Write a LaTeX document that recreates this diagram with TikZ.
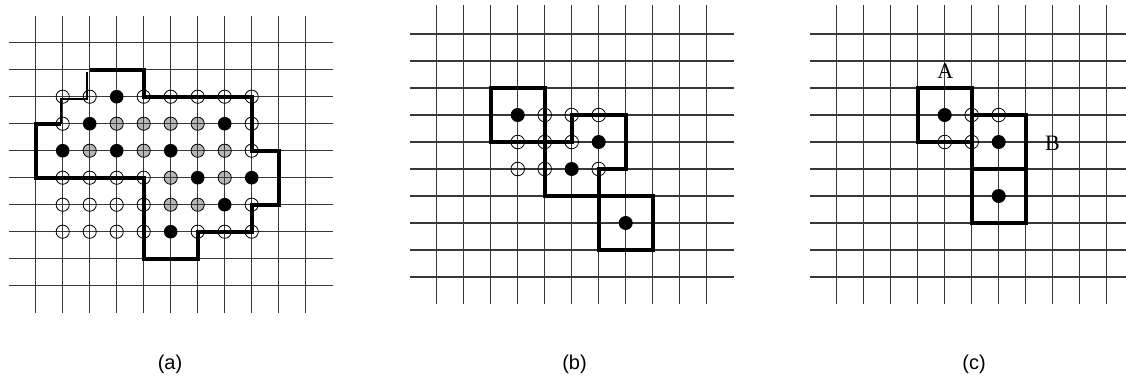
\documentclass[tikz,border=0pt]{standalone}
\usepackage{fontspec}
\setmainfont{Liberation Serif}
\setsansfont{Liberation Sans}
\usepackage{tikz}
\usetikzlibrary{positioning}
\definecolor{gridgray}{HTML}{383838}
\definecolor{probe}{HTML}{B6B6B6}
% grid of one panel: 10 rows, 11 columns, right end of the rows as argument
\newcommand{\cellgrid}[2]{%
  \foreach \j in {0,...,9} \draw[gridline] (-1,\j) -- (#1,\j);
  \foreach \i in {0,...,10} \draw[gridline] (\i,#2) -- (\i,10);}

\begin{document}
\begin{tikzpicture}[x=1pt,y=-1pt,
  gridline/.style={gridgray,line width=1.2pt},
  border/.style={black,line width=3.6pt},
  thinborder/.style={black,line width=2pt},
  hit/.style={fill=black},
  probed/.style={fill=probe},
  empty/.style={draw=black,line width=0.8pt},
  caption/.style={font=\sffamily\fontsize{20}{24}\selectfont,anchor=base,inner sep=0pt},
  corner/.style={font=\fontsize{22}{26}\selectfont,anchor=base,inner sep=0pt}]
  \useasboundingbox (0,0) rectangle (1126,378);

  % panel (a)
  \begin{scope}[shift={(35.7,42.7)},x=27pt,y=-27pt]
    % grey cells go under the grid
    \foreach \p in {(3,3),(4,3),(5,3),(6,3),(2,4),(4,4),(6,4),(7,4),(5,5),(7,5),(5,6),(6,6)}
      \fill[probed] \p circle[radius=6.6pt];
    \cellgrid{11}{-1}
    \foreach \p in {(3,3),(4,3),(5,3),(6,3),(2,4),(4,4),(6,4),(7,4),(5,5),(7,5),(5,6),(6,6)}
      \draw[empty] \p circle[radius=6.6pt];
    % open circles
    \foreach \p in {(1,2),(2,2),(4,2),(5,2),(6,2),(7,2),(8,2),(1,3),(8,3),(8,4),
                    (1,5),(2,5),(3,5),(4,5),(1,6),(2,6),(3,6),(4,6),(8,6),
                    (1,7),(2,7),(3,7),(4,7),(6,7),(7,7),(8,7)}
      \draw[empty] \p circle[radius=6.6pt];
    % black cells
    \foreach \p in {(3,2),(2,3),(7,3),(1,4),(3,4),(5,4),(6,5),(8,5),(7,6),(5,7)}
      \fill[hit] \p circle[radius=6.8pt];
    % region outline
    \draw[border] (0.94,3) -- (0,3) -- (0,5) -- (4,5) -- (4,8) -- (6,8) -- (6,7)
      -- (8,7) -- (8,6) -- (9,6) -- (9,4) -- (8,4) -- (8,2) -- (4,2) -- (4,1) -- (2,1);
    \draw[thinborder] (0.94,3) -- (0.94,2.1) -- (1.89,2.1) -- (1.89,1.1);
  \end{scope}
  \node[caption] (capa) at (170,369.5) {(a)};

  % panel (b)
  \begin{scope}[shift={(436.7,34)},x=27pt,y=-27pt]
    \cellgrid{11}{-1.07}
    \foreach \p in {(4,3),(5,3),(6,3),(3,4),(4,4),(5,4),(3,5),(4,5),(6,5)}
      \draw[empty] \p circle[radius=6.8pt];
    \foreach \p in {(3,3),(6,4),(5,5),(7,7)}
      \fill[hit] \p circle[radius=7pt];
    \draw[border] (2,2) rectangle (4,4);
    \draw[border] (4,4) -- (5,4) -- (5,3) -- (7,3) -- (7,5) -- (6,5) -- (6,6) -- (4,6) -- cycle;
    \draw[border] (6,6) rectangle (8,8);
  \end{scope}
  \node[caption] (capb) at (574.5,369.5) {(b)};

  % panel (c)
  \begin{scope}[shift={(836.7,34)},x=27pt,y=-27pt]
    \cellgrid{10.71}{-1.07}
    \foreach \p in {(5,3),(6,3),(4,4),(5,4)}
      \draw[empty] \p circle[radius=6.8pt];
    \foreach \p in {(4,3),(6,4),(6,6)}
      \fill[hit] \p circle[radius=7pt];
    \draw[border] (3,2) rectangle (5,4);
    \draw[border] (5,3) rectangle (7,5);
    \draw[border] (5,5) rectangle (7,7);
    \node[corner] (labA) at (4.02,1.64) {A};
    \node[corner] (labB) at (7.99,4.32) {B};
  \end{scope}
  \node[caption] (capc) at (974,369.5) {(c)};
\end{tikzpicture}
\end{document}
